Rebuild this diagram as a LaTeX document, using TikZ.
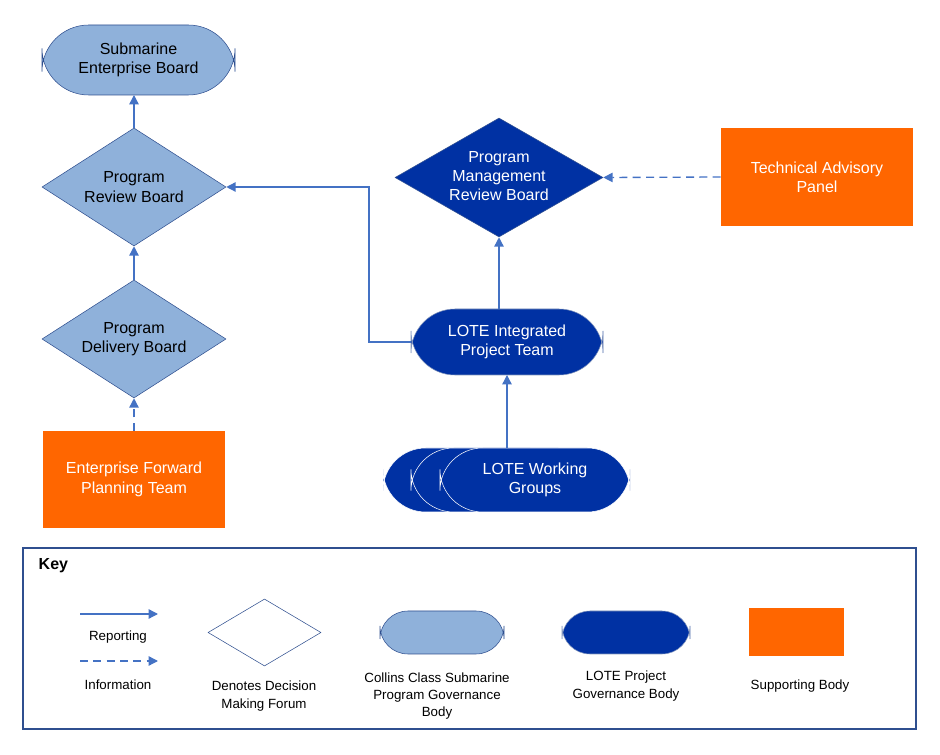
\documentclass[tikz,border=0pt]{standalone}
\usepackage{fontspec}
\setmainfont{Liberation Sans}
\usetikzlibrary{shapes.geometric,arrows.meta}
\definecolor{lb}{HTML}{8FB1DA}
\definecolor{db}{HTML}{0031A3}
\definecolor{edge}{HTML}{2F4F8F}
\definecolor{org}{HTML}{FF6600}
\definecolor{arr}{HTML}{4472C4}
\begin{document}
\begin{tikzpicture}[x=0.75pt,y=-0.75pt,
  lpill/.style={draw=edge,fill=lb,rounded corners=#1,inner sep=0},
  dpill/.style={draw=edge!60!white,fill=db,rounded corners=#1,inner sep=0},
  ldia/.style={diamond,draw=edge,fill=lb,inner sep=0},
  ddia/.style={diamond,draw=edge,fill=db,inner sep=0},
  orect/.style={fill=org,inner sep=0},
  txt/.style={align=center,font=\fontsize{12}{14.5}\selectfont},
  wtxt/.style={txt,text=white},
  ktxt/.style={align=center,font=\fontsize{10}{13}\selectfont},
  rep/.style={draw=arr,line width=1pt,-{Triangle[length=7pt,width=7pt]}},
  inf/.style={rep,dashed,dash pattern=on 6pt off 4pt}]
\useasboundingbox (0,0) rectangle (940,755);
% main nodes
\draw[lpill=35] (42,25) rectangle (235,95);
\node[txt] (seb) at (138.5,60) {Submarine\\Enterprise Board};
\coordinate (sebB) at (134,95);
\node[ldia,minimum width=184*0.75pt,minimum height=118*0.75pt] (prb) at (134,187) {};
\node[txt] at (134,187) {Program\\Review Board};
\node[ldia,minimum width=184*0.75pt,minimum height=118*0.75pt] (pdb) at (134,339) {};
\node[txt] at (134,339) {Program\\Delivery Board};
\node[orect,minimum width=182*0.75pt,minimum height=97*0.75pt] (efpt) at (134,479.5) {};
\node[wtxt] at (134,479.5) {Enterprise Forward\\Planning Team};
\node[ddia,minimum width=208*0.75pt,minimum height=119*0.75pt] (pmrb) at (499,177.5) {};
\node[wtxt] at (499,176) {Program\\Management\\Review Board};
\node[orect,minimum width=192*0.75pt,minimum height=98*0.75pt] (tap) at (817,177) {};
\node[wtxt] at (817,177) {Technical Advisory\\Panel};
\draw[dpill=33] (411,309) rectangle (603,375);
\node[wtxt] (ipt) at (507,342) {LOTE Integrated\\Project Team};
\coordinate (iptL) at (411,342);
\coordinate (iptT) at (499,309);
\coordinate (iptB) at (507,375);
\draw[dpill=32,draw=white] (383,448) rectangle (573,512);
\draw[dpill=32,draw=white] (411,448) rectangle (601,512);
\draw[dpill=32,draw=white] (440,448) rectangle (630,512);
\node[wtxt] (wg) at (535,480) {LOTE Working\\Groups};
\coordinate (wgT) at (507,448);
% connectors
\draw[rep] (prb.north) -- (sebB);
\draw[rep] (pdb.north) -- (prb.south);
\draw[inf] (efpt.north) -- (pdb.south);
\draw[rep] (iptL) -- (369,342) -- (369,187) -- (prb.east);
\draw[rep] (iptT) -- (pmrb.south);
\draw[inf] (tap.west) -- (pmrb.east);
\draw[rep] (wgT) -- (iptB);
% key
\draw[draw=edge,line width=0.8pt] (23,548) rectangle (916,729);
\node[anchor=west,font=\bfseries\fontsize{12}{14}\selectfont] (key) at (34,566) {Key};
\coordinate (r1) at (80,614); \coordinate (r2) at (158,614);
\draw[rep] (r1) -- (r2);
\node[ktxt] (repl) at (118,637) {Reporting};
\coordinate (i1) at (80,661); \coordinate (i2) at (158,661);
\draw[inf] (i1) -- (i2);
\node[ktxt] (infl) at (118,685) {Information};
\node[diamond,draw=edge,fill=white,inner sep=0,minimum width=113*0.75pt,minimum height=67*0.75pt] (kd) at (264.5,632.5) {};
\node[ktxt] at (264,696) {Denotes Decision\\Making Forum};
\draw[lpill=21] (380,611) rectangle (504,654);
\node[ktxt] (kl) at (437,696) {Collins Class Submarine\\Program Governance\\Body};
\draw[dpill=21] (562,611) rectangle (690,654);
\node[ktxt] (kdl) at (626,686) {LOTE Project\\Governance Body};
\node[orect,minimum width=95*0.75pt,minimum height=48*0.75pt] (ko) at (796.5,632) {};
\node[ktxt] at (800,686) {Supporting Body};
\end{tikzpicture}
\end{document}
